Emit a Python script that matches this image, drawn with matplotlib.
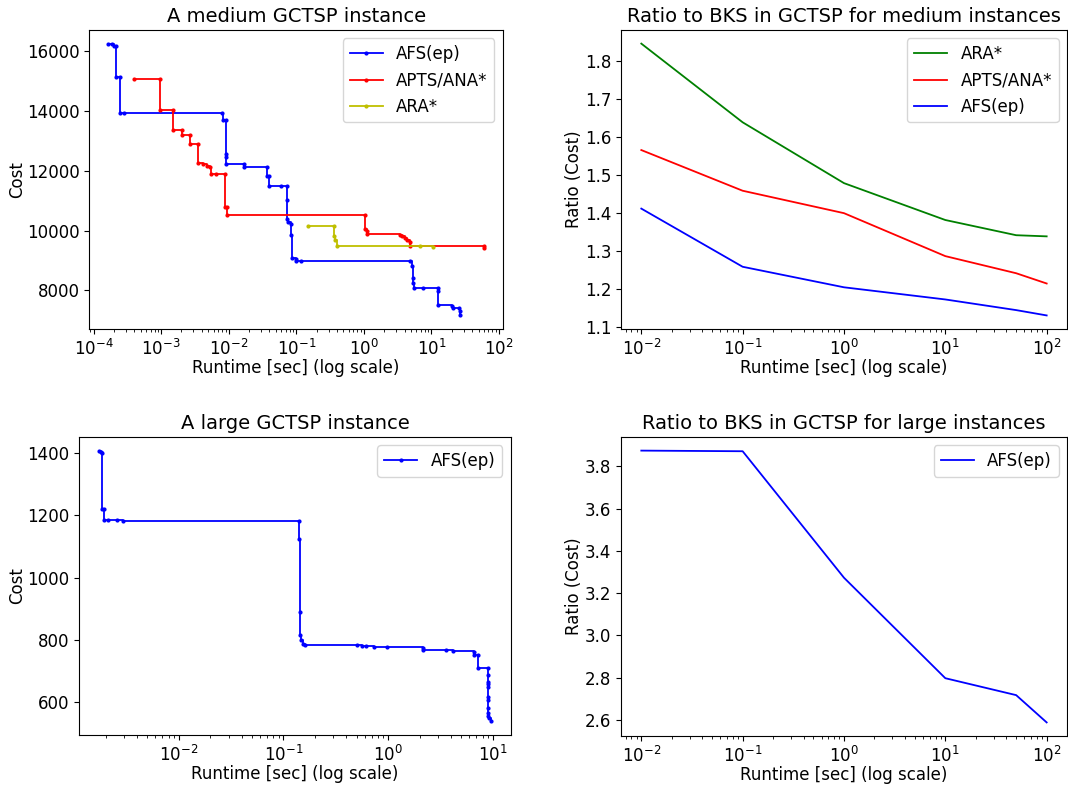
import matplotlib
matplotlib.use("Agg")
import matplotlib.pyplot as plt

# ---------------- DATA ----------------
# medium instance, anytime profiles (runtime [s], cost)
afs_med_t = [1.65e-4, 1.89e-4, 1.98e-4, 2.12e-4, 2.12e-4, 2.43e-4, 2.43e-4, 2.78e-4,
             8.07e-3, 8.24e-3, 9.03e-3, 9.03e-3, 9.1e-3, 9.1e-3, 1.67e-2, 1.67e-2,
             3.74e-2, 3.74e-2, 3.95e-2, 3.95e-2, 6.03e-2, 7.31e-2, 7.31e-2, 7.31e-2,
             7.56e-2, 8.29e-2, 8.29e-2, 8.67e-2, 9.84e-2, 0.0998, 0.119, 4.80,
             5.14, 5.37, 5.37, 5.51, 7.56, 12.6, 12.6, 12.6, 20.3, 21.0, 25.5, 26.4, 26.4]
afs_med_c = [16250, 16250, 16180, 16180, 15150, 15150, 13930, 13930,
             13930, 13710, 13690, 12570, 12450, 12230, 12230, 12130,
             12130, 11820, 11820, 11480, 11480, 11480, 11030, 10380,
             10270, 10220, 9860, 9080, 9050, 8990, 8990, 8990,
             8820, 8410, 8250, 8080, 8080, 8080, 7970, 7520, 7490, 7410, 7410, 7300, 7160]

apts_med_t = [3.95e-4, 9.73e-4, 9.73e-4, 1.50e-3, 1.50e-3, 2.01e-3, 2.01e-3, 2.64e-3,
              2.64e-3, 3.47e-3, 3.47e-3, 4.16e-3, 4.77e-3, 5.35e-3, 5.54e-3, 6.48e-3,
              8.73e-3, 8.73e-3, 9.57e-3, 9.57e-3, 1.035, 1.035, 1.10, 1.12,
              3.41, 3.62, 4.05, 4.29, 4.80, 4.80, 59.9, 59.9]
apts_med_c = [15060, 15060, 14020, 14020, 13360, 13360, 13190, 13190,
              12880, 12880, 12250, 12220, 12160, 12130, 11890, 11890,
              11890, 10770, 10770, 10520, 10520, 10050, 9970, 9890,
              9860, 9800, 9750, 9690, 9630, 9490, 9490, 9410]

ara_med_t = [0.150, 0.359, 0.359, 0.372, 0.402, 6.76, 10.4]
ara_med_c = [10160, 10160, 9800, 9670, 9490, 9490, 9450]

# large instance
afs_large_t = [1.73e-3, 1.82e-3, 1.85e-3, 1.85e-3, 1.94e-3, 1.94e-3, 2.13e-3, 2.60e-3,
               2.92e-3, 0.142, 0.142, 0.143, 0.143, 0.146, 0.153, 0.160,
               0.501, 0.560, 0.615, 0.738, 0.970, 2.17, 2.17, 3.55,
               4.14, 6.61, 6.61, 7.27, 7.27, 9.06, 9.06, 9.06,
               9.06, 9.06, 9.06, 9.06, 9.06, 9.06, 9.06, 9.30, 9.62]
afs_large_c = [1409, 1403, 1400, 1221, 1221, 1187, 1187, 1185,
               1182, 1182, 1123, 889, 814, 798, 787, 782,
               782, 780, 779, 778, 777, 775, 768, 768,
               763, 761, 750, 750, 710, 710, 686, 665,
               659, 647, 617, 606, 579, 563, 553, 547, 537]

# ratio to BKS
ratio_t = [0.01, 0.1, 1, 10, 50, 100]
ratio_med_ara = [1.845, 1.638, 1.478, 1.381, 1.341, 1.338]
ratio_med_apts = [1.565, 1.458, 1.399, 1.286, 1.241, 1.214]
ratio_med_afs = [1.411, 1.258, 1.204, 1.172, 1.144, 1.130]
ratio_large_afs = [3.874, 3.871, 3.273, 2.798, 2.718, 2.589]

# ---------------- PLOT ----------------
plt.rcParams['font.size'] = 12
plt.rcParams['axes.labelpad'] = 1
fig = plt.figure(figsize=(10.68, 7.86), dpi=100)

ax1 = fig.add_axes([0.0838, 0.5814, 0.3869, 0.3804])
ax2 = fig.add_axes([0.5815, 0.5814, 0.4175, 0.3804])
ax3 = fig.add_axes([0.0743, 0.0649, 0.4037, 0.3791])
ax4 = fig.add_axes([0.5815, 0.0636, 0.4175, 0.3804])

lw = 1.3
ms = 4

ax1.plot(afs_med_t, afs_med_c, 'b.-', drawstyle='steps-post', lw=lw, ms=ms, label='AFS(ep)')
ax1.plot(apts_med_t, apts_med_c, 'r.-', drawstyle='steps-post', lw=lw, ms=ms, label='APTS/ANA*')
ax1.plot(ara_med_t, ara_med_c, 'y.-', drawstyle='steps-post', lw=lw, ms=ms, label='ARA*')
ax1.set_xscale('log')
ax1.set_title('A medium GCTSP instance', fontsize=14)
ax1.set_xlabel('Runtime [sec] (log scale)', labelpad=0)
ax1.set_ylabel('Cost')
ax1.legend(loc='upper right')

ax2.plot(ratio_t, ratio_med_ara, 'g-', lw=lw, label='ARA*')
ax2.plot(ratio_t, ratio_med_apts, 'r-', lw=lw, label='APTS/ANA*')
ax2.plot(ratio_t, ratio_med_afs, 'b-', lw=lw, label='AFS(ep)')
ax2.set_xscale('log')
ax2.set_title('Ratio to BKS in GCTSP for medium instances', fontsize=14)
ax2.set_xlabel('Runtime [sec] (log scale)', labelpad=0)
ax2.set_ylabel('Ratio (Cost)')
ax2.legend(loc='upper right')

ax3.plot(afs_large_t, afs_large_c, 'b.-', drawstyle='steps-post', lw=lw, ms=ms, label='AFS(ep)')
ax3.set_xscale('log')
ax3.set_title('A large GCTSP instance', fontsize=14)
ax3.set_xlabel('Runtime [sec] (log scale)', labelpad=0)
ax3.set_ylabel('Cost')
ax3.legend(loc='upper right')

ax4.plot(ratio_t, ratio_large_afs, 'b-', lw=lw, label='AFS(ep)')
ax4.set_xscale('log')
ax4.set_title('Ratio to BKS in GCTSP for large instances', fontsize=14)
ax4.set_xlabel('Runtime [sec] (log scale)', labelpad=0)
ax4.set_ylabel('Ratio (Cost)')
ax4.legend(loc='upper right')

plt.savefig('out.png', dpi=100)
